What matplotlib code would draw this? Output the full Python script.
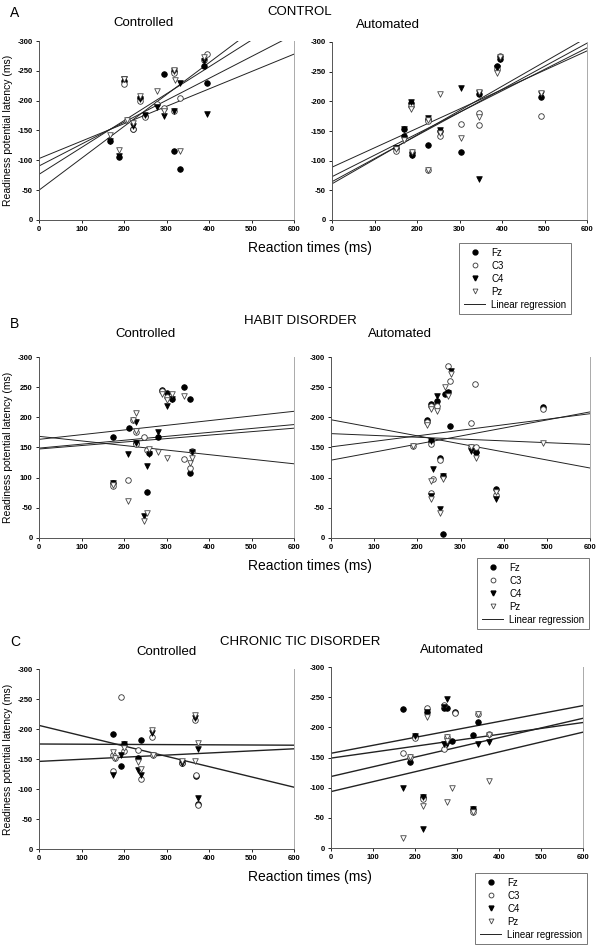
# readiness potential latency vs reaction time, 3 groups x 2 conditions
import matplotlib
matplotlib.use("Agg")
import matplotlib.pyplot as plt
from matplotlib.lines import Line2D

plt.rcParams['font.family'] = ['Liberation Sans', 'DejaVu Sans']

# values: (reaction time ms, RP latency magnitude ms)
# A - CONTROL, controlled
a_ctl_fz = [(167,132),(188,106),(200,233),(222,153),(237,204),(249,174),(294,244),(317,116),(317,250),(332,85),(388,258),(395,230)]
a_ctl_c3 = [(200,228),(207,167),(222,152),(237,200),(249,173),(278,195),(294,188),(317,247),(317,183),(332,205),(388,268),(395,278)]
a_ctl_c4 = [(167,133),(188,108),(200,236),(222,158),(237,203),(249,176),(278,190),(294,175),(317,250),(317,183),(332,230),(388,266),(395,178)]
a_ctl_pz = [(167,142),(188,117),(200,237),(207,168),(222,163),(237,207),(278,217),(294,182),(317,252),(320,234),(332,115),(388,273)]
# A - CONTROL, automated
a_aut_fz = [(150,121),(170,154),(170,142),(186,197),(189,110),(227,171),(227,126),(253,150),(304,114),(346,212),(389,260),(395,272),(491,208)]
a_aut_c3 = [(150,117),(186,192),(189,114),(227,167),(227,84),(253,142),(304,162),(346,180),(346,160),(389,255),(395,277),(491,175)]
a_aut_c4 = [(150,121),(170,154),(186,199),(189,110),(227,172),(253,152),(304,222),(346,214),(347,69),(389,256),(395,271),(491,212)]
a_aut_pz = [(150,120),(170,135),(186,187),(189,114),(227,168),(227,85),(253,146),(253,212),(304,139),(346,216),(346,174),(389,248),(395,275),(491,214)]
# B - HABIT DISORDER, controlled
b_ctl_fz = [(175,167),(175,91),(211,183),(229,157),(255,76),(259,141),(280,167),(290,246),(302,241),(312,231),(341,250),(355,231),(355,108)]
b_ctl_c3 = [(175,86),(210,96),(222,195),(229,175),(229,156),(247,167),(255,146),(290,243),(302,233),(341,131),(355,116),(360,145)]
b_ctl_c4 = [(175,91),(210,140),(229,192),(229,157),(247,37),(255,119),(259,139),(280,175),(302,218),(312,231),(360,142)]
b_ctl_pz = [(175,88),(210,62),(222,195),(229,208),(229,177),(247,29),(255,41),(259,148),(280,142),(290,239),(302,228),(302,133),(312,239),(341,236),(355,125),(360,133)]
# B - HABIT DISORDER, automated
b_aut_fz = [(222,195),(232,222),(232,160),(246,227),(252,132),(259,102),(259,7),(263,239),(272,242),(276,185),(337,142),(382,82),(490,217)]
b_aut_c3 = [(189,152),(222,192),(232,219),(232,156),(237,97),(232,75),(246,218),(252,130),(272,285),(276,260),(324,190),(324,151),(334,255),(337,151),(382,72),(490,214)]
b_aut_c4 = [(232,160),(237,114),(232,69),(246,236),(252,48),(259,102),(277,276),(272,240),(324,145),(337,137),(382,64)]
b_aut_pz = [(189,152),(222,187),(232,214),(232,94),(232,65),(246,210),(252,41),(259,97),(263,250),(277,272),(272,235),(324,151),(337,133),(382,76),(490,157)]
# C - CHRONIC TIC DISORDER, controlled
c_ctl_fz = [(173,192),(194,139),(200,175),(232,152),(239,182),(337,144),(370,121),(374,75)]
c_ctl_c3 = [(173,156),(173,130),(179,152),(194,254),(200,164),(232,165),(239,117),(267,186),(269,157),(337,144),(366,215),(370,124),(374,74)]
c_ctl_c4 = [(173,124),(194,156),(200,175),(232,132),(239,124),(267,194),(337,143),(366,219),(374,167),(374,85)]
c_ctl_pz = [(173,162),(179,152),(200,169),(232,145),(239,134),(267,199),(269,157),(337,146),(366,224),(366,146),(374,177)]
# C - CHRONIC TIC DISORDER, automated
c_aut_fz = [(172,230),(188,142),(200,186),(218,85),(228,226),(268,232),(276,232),(289,178),(296,226),(338,188),(338,64),(349,209)]
c_aut_c3 = [(172,157),(188,151),(200,182),(218,81),(228,232),(268,237),(268,164),(276,184),(296,224),(338,59),(349,222),(376,189)]
c_aut_c4 = [(172,99),(200,186),(218,85),(218,32),(228,225),(268,233),(276,247),(268,173),(276,173),(338,64),(349,172),(376,176)]
c_aut_pz = [(172,17),(188,151),(218,69),(228,217),(276,184),(276,177),(276,76),(289,99),(338,59),(349,222),(376,187),(376,111)]

# regression lines: (value at 0 ms, value at 600 ms)
a_ctl_reg = [(103,278),(90.5,310.7),(76.5,346.5),(50,370.4)]
a_aut_reg = [(61,307.6),(64.6,298),(73,290),(89,285)]
b_ctl_reg = [(163.5,210),(149,188),(147.5,182),(168.5,123)]
b_aut_reg = [(196,116),(173,155),(151,206),(129,209)]
c_ctl_reg = [(206,103),(175,173),(146,167)]
c_aut_reg = [(157,236),(149,208),(118.5,215),(93.5,192)]

x_ticks = [0, 100, 200, 300, 400, 500, 600]
y_ticks = [0, 50, 100, 150, 200, 250, 300]
y_labels = ['0', '-50', '-100', '-150', '-200', '-250', '-300']
y_labels_b = ['0', '-50', '100', '150', '200', '250', '-300']

W, H = 601, 946
fig = plt.figure(figsize=(W / 100, H / 100), dpi=100)

def box(x0, y0, x1, y1):
    return [x0 / W, 1 - y1 / H, (x1 - x0) / W, (y1 - y0) / H]

styles = {
    'Fz': dict(marker='o', facecolor='black', edgecolor='black'),
    'C3': dict(marker='o', facecolor='white', edgecolor='#333333'),
    'C4': dict(marker='v', facecolor='black', edgecolor='black'),
    'Pz': dict(marker='v', facecolor='white', edgecolor='#444444'),
}

panels = [
    (box(39, 41, 294, 220), [a_ctl_fz, a_ctl_c3, a_ctl_c4, a_ctl_pz], a_ctl_reg, y_labels, True, 0.7),
    (box(332, 42, 587, 220), [a_aut_fz, a_aut_c3, a_aut_c4, a_aut_pz], a_aut_reg, y_labels, False, 0.7),
    (box(39, 357, 294, 538), [b_ctl_fz, b_ctl_c3, b_ctl_c4, b_ctl_pz], b_ctl_reg, y_labels_b, True, 0.7),
    (box(331, 357, 590, 538), [b_aut_fz, b_aut_c3, b_aut_c4, b_aut_pz], b_aut_reg, y_labels, False, 0.7),
    (box(39, 669, 294, 849), [c_ctl_fz, c_ctl_c3, c_ctl_c4, c_ctl_pz], c_ctl_reg, y_labels, True, 1.0),
    (box(331, 667, 583, 848), [c_aut_fz, c_aut_c3, c_aut_c4, c_aut_pz], c_aut_reg, y_labels, False, 1.0),
]

for pos, series, reg, ylab, left, lw in panels:
    ax = fig.add_axes(pos)
    for (a, b) in reg:
        ax.plot([0, 600], [a, b], color='#222222', lw=lw, zorder=1)
    for name, pts in zip(['Fz', 'C3', 'C4', 'Pz'], series):
        xs = [p[0] for p in pts]
        ys = [p[1] for p in pts]
        st = styles[name]
        ax.scatter(xs, ys, s=16, marker=st['marker'], facecolors=st['facecolor'],
                   edgecolors=st['edgecolor'], linewidths=0.6, zorder=3)
    ax.set_xlim(0, 600)
    ax.set_ylim(0, 300)
    ax.set_xticks(x_ticks)
    ax.set_xticklabels([str(t) for t in x_ticks])
    ax.set_yticks(y_ticks)
    ax.set_yticklabels(ylab)
    ax.tick_params(labelsize=5.5, length=2.5, width=0.6, pad=2)
    for lab in ax.get_xticklabels() + ax.get_yticklabels():
        lab.set_fontweight('bold')
    ax.spines['top'].set_visible(False)
    ax.spines['right'].set_color('#aaaaaa')
    ax.spines['left'].set_color('#555555')
    ax.spines['bottom'].set_color('#555555')
    for s in ax.spines.values():
        s.set_linewidth(0.7)
    if left:
        ax.set_ylabel('Readiness potential latency (ms)', fontsize=7.5, labelpad=3)

# row headers
rows = [
    ('A', 'CONTROL', 13, 12, 23, 25, 143, 388),
    ('B', 'HABIT DISORDER', 324, 321, 334, 334, 146, 400),
    ('C', 'CHRONIC TIC DISORDER', 642, 642, 652, 650, 167, 452),
]
for letter, group, yl, yg, yc, ya, xc, xa in rows:
    fig.text(10 / W, 1 - yl / H, letter, fontsize=10, ha='left', va='center')
    fig.text(300 / W, 1 - yg / H, group, fontsize=9.5, ha='center', va='center')
    fig.text(xc / W, 1 - yc / H, 'Controlled', fontsize=9.5, ha='center', va='center')
    fig.text(xa / W, 1 - ya / H, 'Automated', fontsize=9.5, ha='center', va='center')

# x labels and legends under each row
handles = [
    Line2D([], [], ls='none', marker='o', ms=3.5, mfc='black', mec='black'),
    Line2D([], [], ls='none', marker='o', ms=3.5, mfc='white', mec='#333333', mew=0.6),
    Line2D([], [], ls='none', marker='v', ms=3.5, mfc='black', mec='black'),
    Line2D([], [], ls='none', marker='v', ms=3.5, mfc='white', mec='#444444', mew=0.6),
    Line2D([], [], color='#222222', lw=0.7),
]
names = ['Fz', 'C3', 'C4', 'Pz', 'Linear regression']
for ybot, lx, ly in [(220, 459, 243), (538, 477, 558), (849, 475, 873)]:
    fig.text(310 / W, 1 - (ybot + 28) / H, 'Reaction times (ms)', fontsize=10,
             ha='center', va='center')
    leg = fig.legend(handles, names, loc='upper left',
                     bbox_to_anchor=(lx / W, 1 - ly / H), fontsize=7,
                     frameon=True, fancybox=False, edgecolor='#555555',
                     handlelength=2.2, labelspacing=0.3, borderpad=0.5,
                     handletextpad=0.6, borderaxespad=0)
    leg.get_frame().set_linewidth(0.7)

fig.savefig('out.png', dpi=100)
